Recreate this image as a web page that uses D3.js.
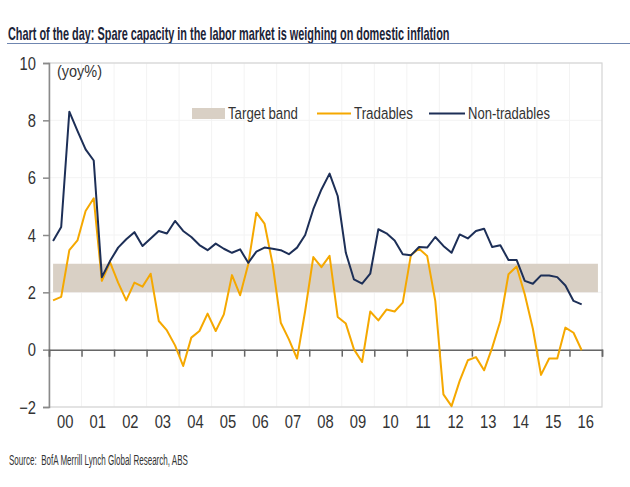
<!DOCTYPE html>
<html>
<head>
<meta charset="utf-8">
<script src="https://cdn.jsdelivr.net/npm/d3@7"></script>
<style>
  html, body { margin: 0; padding: 0; background: #fff; }
  svg { display: block; }
  text { font-family: "Liberation Sans", Arial, sans-serif; }
</style>
</head>
<body>
<div id="chart"></div>
<script>
// ---- Data (quarterly, 2000Q1 .. 2016Q2) ----
const tradables = [1.72,1.84,3.47,3.81,4.84,5.28,2.4,3.05,2.34,1.72,2.34,2.2,2.65,1.0,
  0.67,0.15,-0.57,0.42,0.65,1.26,0.65,1.23,2.6,1.9,2.98,4.78,4.4,
  2.98,0.94,0.36,-0.31,1.35,3.23,2.88,3.27,1.14,0.91,0.01,-0.43,1.33,1.02,
  1.4,1.33,1.64,3.3,3.52,3.27,1.7,-1.56,-1.97,-1.09,-0.37,-0.26,-0.72,
  0.07,1.0,2.63,2.9,1.93,0.73,-0.88,-0.31,-0.31,0.77,0.59,-0.02];
const nonTradables = [3.79,4.28,8.3,7.63,6.99,6.6,2.53,3.09,3.56,3.85,4.1,3.62,3.88,4.14,
  4.05,4.49,4.14,3.93,3.65,3.47,3.7,3.52,3.38,3.5,3.03,3.42,3.56,
  3.52,3.47,3.33,3.56,4.0,4.9,5.59,6.14,5.36,3.38,2.45,2.3,2.65,4.2,
  4.06,3.81,3.33,3.29,3.58,3.56,3.93,3.62,3.38,4.02,3.88,4.14,4.22,
  3.58,3.64,3.13,3.13,2.4,2.3,2.59,2.59,2.53,2.24,1.7,1.58];
const targetBand = [2, 3];            // target band (%)
const bandQuarters = 68;              // band spans 2000Q1..2016Q4
const yearLabels = ["00","01","02","03","04","05","06","07","08","09","10","11","12","13","14","15","16"];
const yTicks = [-2, 0, 2, 4, 6, 8, 10];
const startYear = 2000;

const W = 630, H = 487;
const NARROW = 0.82;
const svg = d3.select("#chart").append("svg").attr("width", W).attr("height", H);

const pL = 49, pR = 602, pT = 63, pB = 407;
const x = d3.scaleLinear().domain([startYear, startYear + yearLabels.length]).range([pL, pR]);
const y = d3.scaleLinear().domain([-2, 10]).range([pB, pT]);
const qx = i => x(startYear + (i + 0.5) / 4);

function narrowText(parent, tx, ty, str, size, anchor) {
  return parent.append("text")
    .attr("transform", `translate(${tx},${ty}) scale(${NARROW},1)`)
    .attr("text-anchor", anchor || "start")
    .attr("font-size", size).attr("fill", "#333").text(str);
}
// text squeezed horizontally to a given width (via scale transform)
function fitText(parent, tx, ty, str, size, width, opts) {
  const t = parent.append("text").attr("font-size", size).attr("fill", (opts && opts.fill) || "#333")
    .attr("xml:space", "preserve").text(str);
  if (opts && opts.bold) t.attr("font-weight", "bold");
  const natural = t.node().getComputedTextLength();
  const s = natural > 0 ? width / natural : 1;
  t.attr("transform", `translate(${tx},${ty}) scale(${s},1)`);
  return t;
}

// Title
fitText(svg, 8, 40, "Chart of the day: Spare capacity in the labor market is weighing on domestic inflation",
  18, 442, { bold: true, fill: "#1c2438" });
svg.append("line").attr("x1", 7).attr("x2", 630).attr("y1", 43.5).attr("y2", 43.5)
  .attr("stroke", "#6f86b0").attr("stroke-width", 1.2);

// faint gridlines
const g = svg.append("g");
g.selectAll(".hg").data(yTicks).enter().append("line")
  .attr("x1", pL).attr("x2", pR).attr("y1", d => y(d)).attr("y2", d => y(d))
  .attr("stroke", "#f3f3f3").attr("stroke-width", 1);
g.selectAll(".vg").data(d3.range(startYear + 1, startYear + yearLabels.length)).enter().append("line")
  .attr("x1", d => x(d)).attr("x2", d => x(d)).attr("y1", pT).attr("y2", pB)
  .attr("stroke", "#f3f3f3").attr("stroke-width", 1);

// plot frame
svg.append("rect").attr("x", pL).attr("y", pT).attr("width", pR - pL).attr("height", pB - pT)
  .attr("fill", "none").attr("stroke", "#d4d4d4").attr("stroke-width", 1.2);

// Target band
const bandData = d3.range(bandQuarters);
svg.append("path")
  .datum([bandData[0], bandData[bandData.length - 1]])
  .attr("d", d3.area().x(d => qx(d)).y0(y(targetBand[0])).y1(y(targetBand[1])))
  .attr("fill", "#d9d0c5");

// Y axis
const yAxis = d3.axisLeft(y).tickValues(yTicks).tickSize(6).tickFormat("");
const ya = svg.append("g").attr("transform", `translate(${pL},0)`).call(yAxis);
ya.select(".domain").attr("stroke", "#8a8a8a").attr("stroke-width", 1.5);
ya.selectAll(".tick line").attr("stroke", "#8a8a8a").attr("stroke-width", 1.5);
yTicks.forEach(v => narrowText(svg, 36, y(v) + 6.5, d3.format("d")(v), 18, "end"));

// X axis along zero line
const xAxis = d3.axisBottom(x).tickValues(d3.range(startYear, startYear + yearLabels.length + 1))
  .tickSize(7).tickFormat("");
const xa = svg.append("g").attr("transform", `translate(0,${y(0)})`).call(xAxis);
xa.select(".domain").attr("stroke", "#666").attr("stroke-width", 1.5);
xa.selectAll(".tick line").attr("stroke", "#666").attr("stroke-width", 1.5);

// X labels (centered in each year)
yearLabels.forEach((d, i) => narrowText(svg, x(startYear + i + 0.5), 428, d, 18, "middle"));

// (yoy%)
fitText(svg, 57, 77, "(yoy%)", 17, 45);

// Lines
const line = d3.line().x((d, i) => qx(i)).y(d => y(d));
svg.append("path").datum(tradables).attr("d", line)
  .attr("fill", "none").attr("stroke", "#f5a800").attr("stroke-width", 2).attr("stroke-linejoin", "round");
svg.append("path").datum(nonTradables).attr("d", line)
  .attr("fill", "none").attr("stroke", "#1d2f57").attr("stroke-width", 2).attr("stroke-linejoin", "round");

// Legend
const lg = svg.append("g");
lg.append("rect").attr("x", 192).attr("y", 108).attr("width", 33).attr("height", 11).attr("fill", "#d9d0c5");
fitText(lg, 228, 119, "Target band", 17, 70);
lg.append("line").attr("x1", 317).attr("x2", 351).attr("y1", 113.5).attr("y2", 113.5).attr("stroke", "#f5a800").attr("stroke-width", 2);
fitText(lg, 354, 119, "Tradables", 17, 59);
lg.append("line").attr("x1", 429).attr("x2", 465).attr("y1", 113.5).attr("y2", 113.5).attr("stroke", "#1d2f57").attr("stroke-width", 2);
fitText(lg, 468, 119, "Non-tradables", 17, 82);

// Source
fitText(svg, 9, 465, "Source:  BofA Merrill Lynch Global Research, ABS", 14.5, 179);
</script>
</body>
</html>
